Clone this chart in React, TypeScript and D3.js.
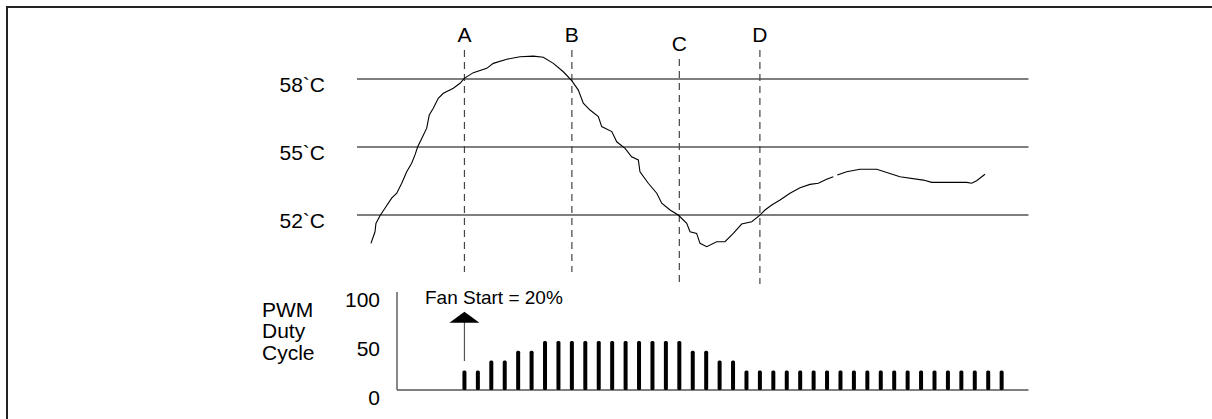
import React from "react";
import * as d3 from "d3";

// Time axis in fan-update steps; temperature in °C; duty in %
const tempTicks = [58, 55, 52];
const tempTickLabels = ["58`C", "55`C", "52`C"];
const events = ["A", "B", "C", "D"];
const eventTimes = [8, 16, 24, 30];

const curveTime = [1.04, 1.34, 1.41, 1.71, 2.08, 2.58, 2.96, 3.33, 3.7, 4.07, 4.32, 4.52, 4.82, 5.19, 5.38, 5.68, 6.05, 6.43, 7.17, 7.67, 7.99, 8.66, 9.66, 10.15, 11.15, 12.14, 13.13, 13.87, 14.62, 15.36, 15.99, 16.48, 16.85, 17.35, 17.97, 18.22, 18.97, 19.34, 19.96, 20.45, 20.95, 21.07, 21.69, 22.32, 22.69, 23.31, 23.92, 24.55, 24.8, 25.29, 25.54, 26.04, 26.78, 27.4, 28.02, 28.64, 29.39, 29.96, 30.38, 30.88, 31.5, 32.24, 32.99, 33.73, 34.35, 34.97, 35.47, 35.6, 35.76, 36.46, 37.45, 38.7, 40.43, 42.17, 42.79, 45.4, 45.77, 46.14, 46.76];
const curveTemp = [50.75, 51.26, 51.63, 51.97, 52.3, 52.74, 52.96, 53.4, 53.91, 54.28, 54.65, 55.01, 55.38, 55.83, 56.41, 56.71, 57.15, 57.37, 57.59, 57.81, 58.03, 58.28, 58.47, 58.69, 58.87, 58.98, 59.01, 58.96, 58.69, 58.32, 57.93, 57.51, 56.93, 56.63, 56.34, 55.9, 55.68, 55.23, 54.94, 54.57, 54.43, 53.91, 53.4, 52.96, 52.52, 52.22, 52.0, 51.63, 51.26, 51.19, 50.75, 50.6, 50.82, 50.82, 51.19, 51.6, 51.7, 51.97, 52.22, 52.44, 52.66, 52.96, 53.2, 53.35, 53.4, 53.58, 53.69, NaN, 53.76, 53.91, 54.02, 54.02, 53.69, 53.54, 53.44, 53.44, 53.4, 53.51, 53.8];

const barTimes = d3.range(8, 49);
const barDuty = [20, 20, 30, 30, 40, 40, 50, 50, 50, 50, 50, 50, 50, 50, 50, 50, 50, 40, 40, 30, 30, 20, 20, 20, 20, 20, 20, 20, 20, 20, 20, 20, 20, 20, 20, 20, 20, 20, 20, 20, 20];
const dutyTicks = [100, 50, 0];
const fanStartLabel = "Fan Start = 20%";
const fanStartTime = 8;
const yLabel = ["PWM", "Duty", "Cycle"];

const FONT = "Arial, 'Liberation Sans', Helvetica, sans-serif";

export default function App() {
  const x = d3.scaleLinear().domain([0, 50]).range([357, 1028.5]);
  const yT = d3.scaleLinear().domain([52, 58]).range([215, 79]);
  const yD = d3.scaleLinear().domain([0, 100]).range([390, 292]);

  const pts = curveTime.map((t, i) => ({ t, v: curveTemp[i] }));
  const line = d3
    .line<{ t: number; v: number }>()
    .defined((d) => !isNaN(d.v))
    .x((d) => x(d.t))
    .y((d) => yT(d.v));

  const dashTop = [50, 50, 59, 50];
  const dashBottom = [272, 272, 282, 284];
  const labelBase = [42, 42, 51, 42];

  const ax = x(fanStartTime);

  return (
    <svg
      width={1212}
      height={419}
      style={{ position: "absolute", left: 0, top: 0, background: "#fff" }}
      fontFamily={FONT}
    >
      <rect x={7} y={7} width={1300} height={500} fill="none" stroke="#222" strokeWidth={2} />

      {tempTicks.map((v, i) => (
        <g key={v}>
          <line x1={x(0)} x2={x(50)} y1={yT(v)} y2={yT(v)} stroke="#555" strokeWidth={1.4} />
          <text x={325} y={yT(v) + 13} textAnchor="end" fontSize={21} fill="#000">
            {tempTickLabels[i]}
          </text>
        </g>
      ))}

      {events.map((e, i) => (
        <g key={e}>
          <line
            x1={x(eventTimes[i])}
            x2={x(eventTimes[i])}
            y1={dashTop[i]}
            y2={dashBottom[i]}
            stroke="#444"
            strokeWidth={1.2}
            strokeDasharray="7,5"
          />
          <text x={x(eventTimes[i])} y={labelBase[i]} textAnchor="middle" fontSize={21} fill="#000">
            {e}
          </text>
        </g>
      ))}

      <path d={line(pts) || ""} fill="none" stroke="#000" strokeWidth={1.1} />

      {/* PWM axes */}
      <line x1={397} x2={397} y1={yD(100)} y2={yD(0)} stroke="#555" strokeWidth={1.4} />
      <line x1={397} x2={x(50)} y1={yD(0)} y2={yD(0)} stroke="#555" strokeWidth={1.4} />
      {dutyTicks.map((v) => (
        <text key={v} x={380} y={yD(v) + 15} textAnchor="end" fontSize={21} fill="#000">
          {v}
        </text>
      ))}
      {yLabel.map((s, i) => (
        <text key={s} x={262} y={316.5 + i * 21.7} fontSize={21} fill="#000">
          {s}
        </text>
      ))}

      {barTimes.map((t, i) => (
        <rect
          key={t}
          x={x(t) - 2}
          y={yD(barDuty[i])}
          width={4}
          height={yD(0) - yD(barDuty[i])}
          rx={1.5}
          fill="#000"
        />
      ))}

      {/* Fan start arrow */}
      <line x1={ax} x2={ax} y1={320} y2={361} stroke="#555" strokeWidth={1.2} />
      <path d={`M${ax - 15},322.7 L${ax + 15},322.7 L${ax},311.7 Z`} fill="#000" />
      <text x={425} y={303.5} fontSize={19} fill="#000">
        {fanStartLabel}
      </text>
    </svg>
  );
}
